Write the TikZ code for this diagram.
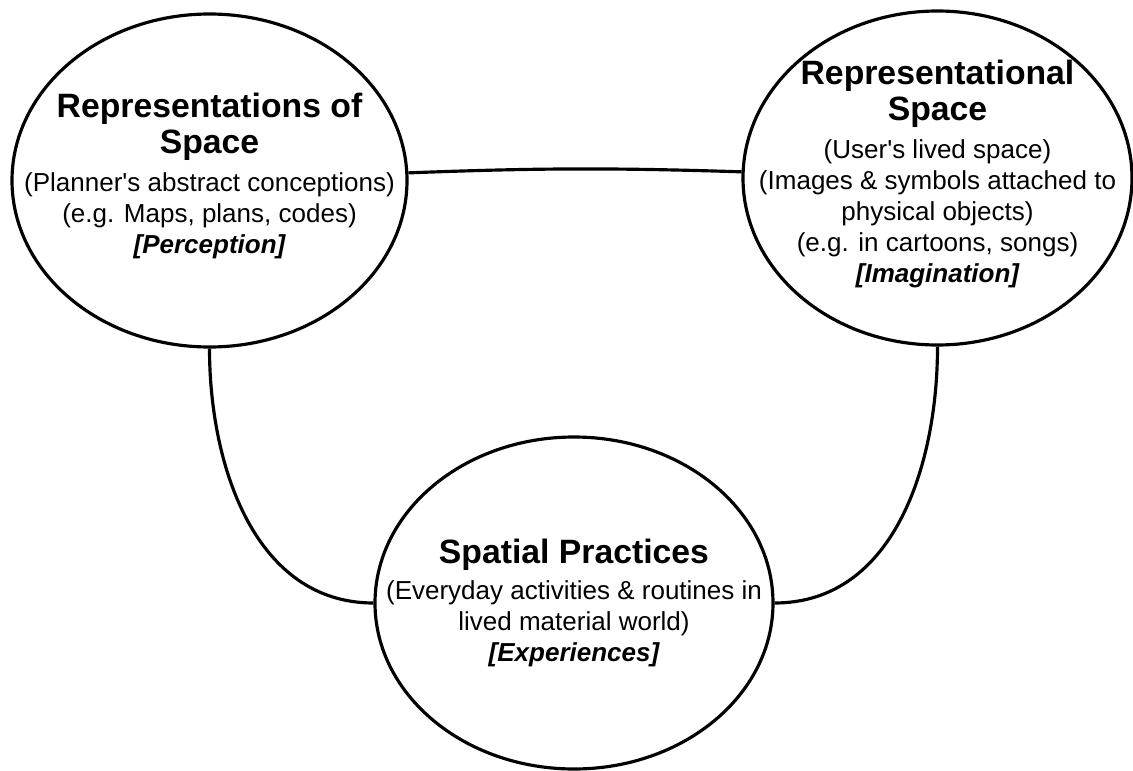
\documentclass[tikz,border=0pt]{standalone}
\usepackage{fontspec}
\setmainfont{Liberation Sans}[Ligatures=TeXOff]
\usetikzlibrary{shapes.geometric}

\newcommand{\ovaltitle}[1]{{\fontsize{19.2}{22}\selectfont\bfseries #1}}
\newcommand{\ovaltag}[1]{{\bfseries\itshape #1}}

\begin{document}
\begin{tikzpicture}
    % Node styles
    \tikzstyle{space} = [ellipse, draw, line width=1.8pt, inner sep=0pt]
    \tikzstyle{caption} = [align=center, inner sep=0pt, font=\fontsize{14.8}{17.6}\selectfont]
    \tikzstyle{link} = [line width=1.8pt]

    \useasboundingbox (0, 0) rectangle (22.66, 15.4);

    % Ellipses
    \node (rep_space) at (4.19, 11.79) [space, minimum width=7.9cm, minimum height=6.66cm] {};
    \node (repl_space) at (18.75, 11.84) [space, minimum width=7.78cm, minimum height=6.68cm] {};
    \node (practices) at (11.48, 3.34) [space, minimum width=7.96cm, minimum height=6.64cm] {};

    % Texts
    \node (rep_text) at ([yshift=2.5pt]rep_space.center) [caption] {\ovaltitle{Representations of}\\[3pt]
        \ovaltitle{Space}\\[4pt]
        (Planner's abstract conceptions)\\
        (e.g. Maps, plans, codes)\\
        \ovaltag{[Perception]}};
    \node (repl_text) at ([yshift=2.5pt]repl_space.center) [caption] {\ovaltitle{Representational}\\[3pt]
        \ovaltitle{Space}\\[4pt]
        (User's lived space)\\
        (Images \& symbols attached to\\
        physical objects)\\
        (e.g. in cartoons, songs)\\
        \ovaltag{[Imagination]}};
    \node (prac_text) at (practices.center) [caption] {\ovaltitle{Spatial Practices}\\[2.5pt]
        (Everyday activities \& routines in\\
        lived material world)\\
        \ovaltag{[Experiences]}};

    % Links
    \draw[link] (rep_space) to[bend left=2] (repl_space);
    \draw[link] (rep_space.south) to[out=-90, in=180] (practices.west);
    \draw[link] (repl_space.south) to[out=-90, in=0] (practices.east);

\end{tikzpicture}
\end{document}
